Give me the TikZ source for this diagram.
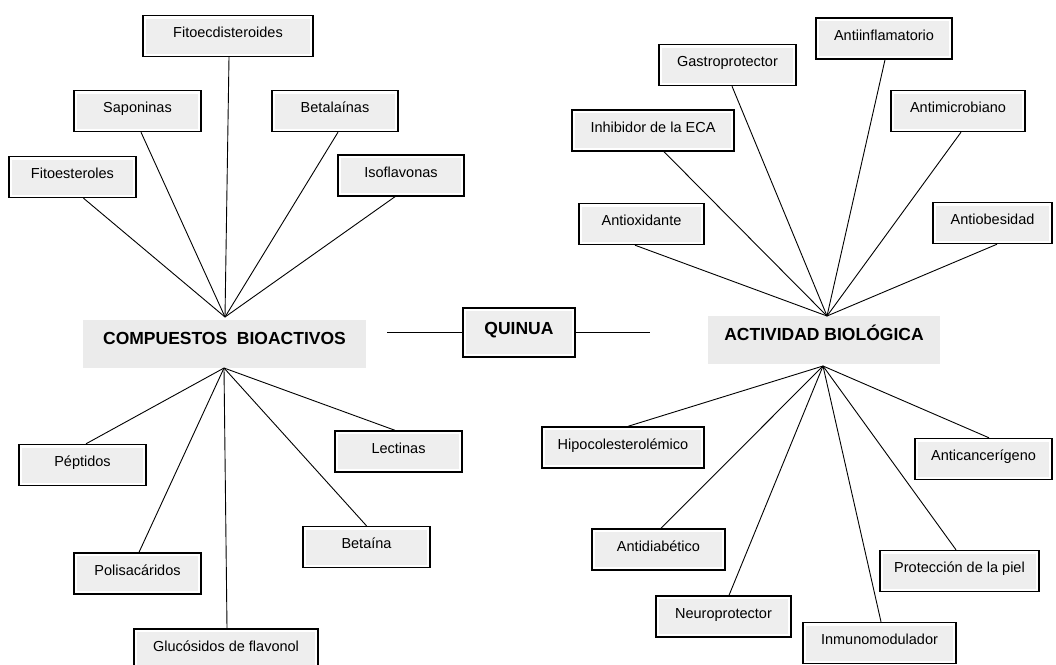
\documentclass[tikz,border=0pt]{standalone}
\usepackage{fontspec}
\setmainfont{Liberation Sans}
\definecolor{boxgray}{HTML}{EEEEEE}
\definecolor{labgray}{HTML}{EBEBEB}
\tikzset{
  cbox/.style={draw=black, line width=1.4pt, fill=white, minimum height=41pt,
    text height=10pt, text depth=7pt, inner sep=0pt,
    font=\fontsize{14.5}{16}\selectfont,
    path picture={\fill[boxgray] ([shift={(3pt,-3pt)}]path picture bounding box.north west)
      rectangle ([shift={(-3pt,3pt)}]path picture bounding box.south east);}},
  mainbox/.style={cbox, minimum height=49pt, text height=13pt, text depth=9.4pt,
    font=\fontsize{17.5}{20}\selectfont\bfseries},
  lab/.style={fill=labgray, draw=none, inner sep=0pt, minimum height=48pt,
    text height=12pt, text depth=10.4pt, font=\fontsize{17.5}{20}\selectfont\bfseries},
  conn/.style={draw=black, line width=0.9pt}
}
\begin{document}
\begin{tikzpicture}[x=1pt,y=-1pt]
\useasboundingbox (0,0) rectangle (1056,664);

% central
\node[mainbox, minimum width=112pt] (quinua) at (519,332.5) {QUINUA};
\coordinate (ql) at (387,332);
\coordinate (qr) at (650,332);
\draw[conn] (ql) -- (ql -| quinua.west);
\draw[conn] (qr -| quinua.east) -- (qr);

\node[lab, minimum width=283pt] (cb) at (224.5,343.5) {COMPUESTOS\ \ BIOACTIVOS};
\node[lab, minimum width=232pt] (ab) at (824,340) {ACTIVIDAD BIOLÓGICA};

\coordinate (cbT) at (225,317);
\coordinate (cbB) at (224,368);
\coordinate (abT) at (827,316);
\coordinate (abB) at (823,366);

% left top
\node[cbox, minimum width=170pt] (fitoecd) at (228,36) {Fitoecdisteroides};
\node[cbox, minimum width=127pt] (sapon) at (137.5,111) {Saponinas};
\node[cbox, minimum width=126pt] (betal) at (335,111) {Betalaínas};
\node[cbox, minimum width=127pt] (fitoest) at (72.5,177) {Fitoesteroles};
\node[cbox, minimum width=126pt] (isofl) at (401,175.5) {Isoflavonas};

\draw[conn] (cbT) -- ([xshift=1pt]fitoecd.south);
\draw[conn] (cbT) -- ([xshift=3.5pt]sapon.south);
\draw[conn] (cbT) -- ([xshift=3pt]betal.south);
\draw[conn] (cbT) -- ([xshift=11pt]fitoest.south);
\draw[conn] (cbT) -- ([xshift=-6pt]isofl.south);

% left bottom
\node[cbox, minimum width=127pt] (pept) at (82.5,465) {Péptidos};
\node[cbox, minimum width=127pt] (polis) at (137.5,573.5) {Polisacáridos};
\node[cbox, minimum width=184pt] (gluco) at (226,649.5) {Glucósidos de flavonol};
\node[cbox, minimum width=127pt] (betai) at (366.5,547) {Betaína};
\node[cbox, minimum width=127pt] (lect) at (398.5,451.5) {Lectinas};

\draw[conn] (cbB) -- ([xshift=3.5pt]pept.north);
\draw[conn] (cbB) -- ([xshift=1.5pt]polis.north);
\draw[conn] (cbB) -- ([xshift=1pt]gluco.north);
\draw[conn] (cbB) -- (betai.north);
\draw[conn] (cbB) -- ([xshift=-3.5pt]lect.north);

% right top
\node[cbox, minimum width=136pt] (antiinf) at (884,38.5) {Antiinflamatorio};
\node[cbox, minimum width=137pt] (gastro) at (727.5,65) {Gastroprotector};
\node[cbox, minimum width=162pt] (inhib) at (653,130.5) {Inhibidor de la ECA};
\node[cbox, minimum width=134pt] (antimic) at (958,111) {Antimicrobiano};
\node[cbox, minimum width=125pt] (antiox) at (641.5,224) {Antioxidante};
\node[cbox, minimum width=119pt] (antiob) at (992.5,223) {Antiobesidad};

\draw[conn] (abT) -- ([xshift=1pt]antiinf.south);
\draw[conn] (abT) -- ([xshift=4.5pt]gastro.south);
\draw[conn] (abT) -- ([xshift=11pt]inhib.south);
\draw[conn] (abT) -- ([xshift=3pt]antimic.south);
\draw[conn] (abT) -- ([xshift=-6.5pt]antiox.south);
\draw[conn] (abT) -- ([xshift=4.5pt]antiob.south);

% right bottom
\node[cbox, minimum width=162pt] (hipo) at (623,447.5) {Hipocolesterolémico};
\node[cbox, minimum width=137pt] (antican) at (983.5,459) {Anticancerígeno};
\node[cbox, minimum width=133pt] (antidia) at (658.5,549.5) {Antidiabético};
\node[cbox, minimum width=159pt] (prot) at (959.5,571) {Protección de la piel};
\node[cbox, minimum width=135pt] (neuro) at (723.5,616.5) {Neuroprotector};
\node[cbox, minimum width=153pt] (inmuno) at (879.5,643) {Inmunomodulador};

\draw[conn] (abB) -- ([xshift=5pt]hipo.north);
\draw[conn] (abB) -- ([xshift=5.5pt]antican.north);
\draw[conn] (abB) -- ([xshift=2.5pt]antidia.north);
\draw[conn] (abB) -- ([xshift=-3.5pt]prot.north);
\draw[conn] (abB) -- ([xshift=5.5pt]neuro.north);
\draw[conn] (abB) -- ([xshift=1.5pt]inmuno.north);
\end{tikzpicture}
\end{document}
